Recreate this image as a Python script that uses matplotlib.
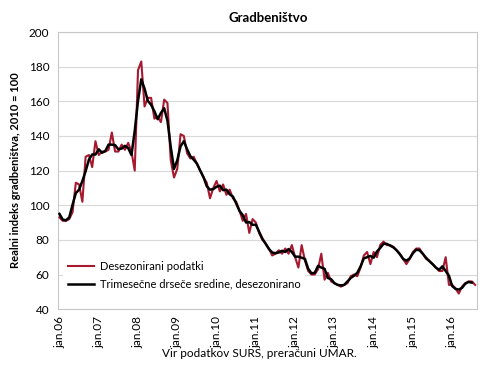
import numpy as np
import matplotlib
matplotlib.use("Agg")
import matplotlib.pyplot as plt

plt.rcParams['font.family'] = ['Lato', 'DejaVu Sans']

# monthly data, jan 2006 - aug 2016
months = 128
year_labels = ['jan.06', 'jan.07', 'jan.08', 'jan.09', 'jan.10', 'jan.11',
               'jan.12', 'jan.13', 'jan.14', 'jan.15', 'jan.16']

seasonally_adj = [
    93, 91, 91, 92, 96, 113, 112, 102, 128, 129, 122, 137,
    129, 131, 131, 132, 142, 131, 131, 135, 132, 136, 131, 120,
    178, 183, 157, 162, 162, 150, 151, 148, 161, 159, 126, 116,
    121, 141, 140, 130, 127, 128, 124, 120, 116, 113, 104, 110,
    114, 108, 112, 106, 109, 104, 102, 97, 91, 95, 84, 92,
    90, 84, 80, 78, 75, 71, 72, 74, 72, 75, 72, 77,
    70, 64, 77, 68, 62, 60, 60, 63, 72, 57, 61, 56,
    55, 54, 53, 54, 55, 59, 60, 59, 64, 71, 73, 66,
    73, 70, 77, 79, 77, 77, 76, 74, 72, 69, 66, 69,
    73, 75, 75, 72, 69, 68, 66, 64, 62, 62, 70, 54,
    54, 52, 49, 53, 55, 56, 56, 54,
]

moving_avg = [
    95, 91.7, 91.3, 93, 100.3, 107, 109, 114, 119.7, 126.3, 129.3, 129.3,
    132.3, 130.3, 131.3, 135, 135, 134.7, 132.3, 132.7, 134.3, 133, 129, 143,
    160.3, 172.7, 167.3, 160.3, 158, 154.3, 149.7, 153.3, 156, 148.7, 133.7, 121,
    126, 134, 137, 132.3, 128.3, 126.3, 124, 120, 116.3, 111, 109, 109.3,
    110.7, 111.3, 108.7, 109, 106.3, 105, 101, 96.7, 94.3, 90, 90.3, 88.7,
    88.7, 84.7, 80.7, 77.7, 74.7, 72.7, 72.3, 72.7, 73.7, 73, 74.7, 73,
    70.3, 70.3, 69.7, 69, 63.3, 60.7, 61, 65, 64, 63.3, 58, 57.3,
    55, 54, 53.7, 54, 56, 58, 59.3, 61, 64.7, 69.3, 70, 70.7,
    69.7, 73.3, 75.3, 77.7, 77.7, 76.7, 75.7, 74, 71.7, 69, 68, 69.3,
    72.3, 74.3, 74, 72, 69.7, 67.7, 66, 64, 62.7, 64.7, 62, 59.3,
    53.3, 51.7, 51.3, 52.3, 54.7, 55.7, 55.3, np.nan,
]

x = np.arange(months)

fig = plt.figure(figsize=(4.9, 3.77), dpi=100)
ax = fig.add_axes([0.118, 0.180, 0.855, 0.735])

ax.plot(x, seasonally_adj, color='#a6192e', lw=1.5, label='Desezonirani podatki', zorder=5)
ax.plot(x, moving_avg, color='black', lw=1.8,
        label='Trimesečne drseče sredine, desezonirano', zorder=6)

ax.set_xlim(-0.5, months - 0.5)
ax.set_ylim(40, 200)
ax.set_yticks(range(40, 201, 20))
ax.set_xticks(np.arange(0, months, 12))
ax.set_xticklabels(year_labels, rotation=90, fontsize=8.5)
ax.tick_params(axis='y', labelsize=8.5, length=0, pad=6)
ax.tick_params(axis='x', length=0, pad=5)

ax.grid(axis='y', color='#d9d9d9', lw=0.8, zorder=0)
for s in ax.spines.values():
    s.set_color('#c8c8c8')
    s.set_linewidth(0.8)

ax.set_ylabel('Realni indeks gradbeništva, 2010 = 100', fontsize=8,
              fontweight='bold', labelpad=6)
fig.text(0.548, 0.952, 'Gradbeništvo', ha='center', va='center',
         fontsize=9.5, fontweight='bold')
fig.text(0.53, 0.062, 'Vir podatkov SURS, preračuni UMAR.', ha='center',
         va='center', fontsize=8.5)

leg = ax.legend(loc='lower left', bbox_to_anchor=(0.0, 0.035), fontsize=8,
                frameon=True, fancybox=False, handlelength=2.4,
                handletextpad=0.5, borderpad=0.4, labelspacing=0.55)
leg.get_frame().set_facecolor('white')
leg.get_frame().set_edgecolor('none')
leg.get_frame().set_alpha(1)
leg.set_zorder(2)

fig.savefig('out.png', dpi=100)
